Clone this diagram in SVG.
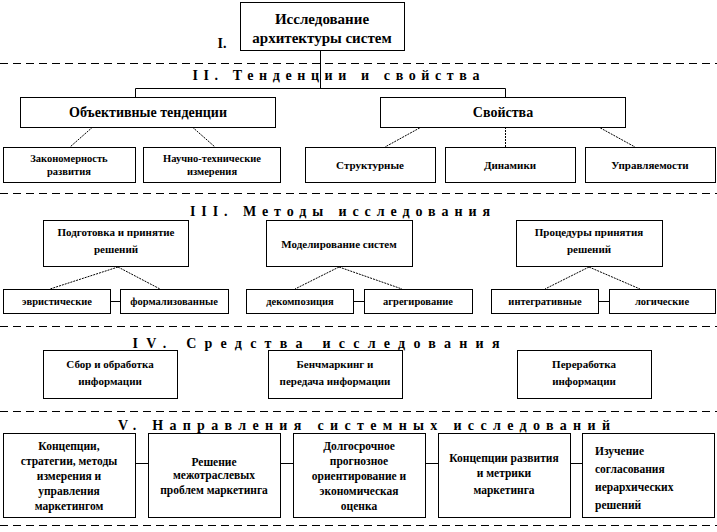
<svg xmlns="http://www.w3.org/2000/svg" width="717" height="532" viewBox="0 0 717 532">
<style>
.bx{fill:#fff;stroke:#000;stroke-width:1}
.ln{stroke:#000;stroke-width:1;fill:none}
.dg{stroke:#000;stroke-width:1;stroke-dasharray:2 1;fill:none}
.dash{stroke:#000;stroke-width:1;stroke-dasharray:8 5}
text{font-family:"Liberation Serif","Times New Roman",serif;font-weight:bold;fill:#000;text-anchor:middle}
.h{font-size:14px}
.t{font-size:15px}
.s{font-size:10.5px}
.m{font-size:11px}
.v{font-size:11.5px}
.l{text-anchor:start}
</style>
<rect width="717" height="532" fill="#fff"/>
<g id="dividers">
<line class="dash" x1="0" y1="63.5" x2="717" y2="63.5"/>
<line class="dash" x1="0" y1="193.5" x2="717" y2="193.5"/>
<line class="dash" x1="0" y1="326.5" x2="717" y2="326.5"/>
<line class="dash" x1="0" y1="411.5" x2="717" y2="411.5"/>
<line class="dash" x1="0" y1="525.5" x2="717" y2="525.5"/>
</g>
<g id="headings">
<text class="h" x="222" y="48">I.</text>
<text class="h" x="336" y="80" textLength="287" lengthAdjust="spacing">II. Тенденции и свойства</text>
<text class="h" x="340" y="216" textLength="300" lengthAdjust="spacing">III. Методы исследования</text>
<text class="h" x="316" y="348" textLength="367" lengthAdjust="spacing">IV. Средства исследования</text>
<text class="h" x="364" y="430" textLength="492" lengthAdjust="spacing">V. Направления системных исследований</text>
</g>
<g id="connectors">
<polyline class="ln" points="320.5,50 320.5,88.5"/>
<polyline class="ln" points="135.5,97 135.5,88.5 505.5,88.5 505.5,97"/>
<line class="dg" x1="95" y1="125" x2="70" y2="147"/>
<line class="dg" x1="190" y1="125" x2="215" y2="147"/>
<line class="dg" x1="425" y1="125" x2="385" y2="147"/>
<line class="dg" x1="505.5" y1="127" x2="505.5" y2="147"/>
<line class="dg" x1="595" y1="125" x2="635" y2="147"/>
<line class="dg" x1="118" y1="267" x2="50" y2="289"/>
<line class="dg" x1="118" y1="267" x2="160" y2="289"/>
<line class="dg" x1="339" y1="267" x2="295" y2="289"/>
<line class="dg" x1="339" y1="267" x2="402" y2="289"/>
<line class="dg" x1="589" y1="267" x2="545" y2="289"/>
<line class="dg" x1="589" y1="267" x2="640" y2="289"/>
<line class="ln" x1="110" y1="301.5" x2="120" y2="301.5"/>
<line class="ln" x1="353" y1="301.5" x2="364" y2="301.5"/>
<line class="ln" x1="598" y1="301.5" x2="609" y2="301.5"/>
<line class="ln" x1="135" y1="463.5" x2="148" y2="463.5"/>
<line class="ln" x1="280" y1="463.5" x2="293" y2="463.5"/>
<line class="ln" x1="425" y1="463.5" x2="438" y2="463.5"/>
<line class="ln" x1="570" y1="463.5" x2="582" y2="463.5"/>
</g>
<g id="n-root"><rect class="bx" x="240.5" y="2.5" width="164" height="48"/>
<text class="t" x="322" y="24">Исследование</text><text class="t" x="322" y="43">архитектуры систем</text></g>
<g id="n-obj"><rect class="bx" x="20.5" y="97.5" width="255" height="30"/><text class="h" x="148" y="117">Объективные тенденции</text></g>
<g id="n-svo"><rect class="bx" x="380.5" y="97.5" width="245" height="30"/><text class="h" x="503" y="117">Свойства</text></g>
<g id="n-zak"><rect class="bx" x="3.5" y="147.5" width="132" height="35"/><text class="s" x="69" y="162">Закономерность</text><text class="s" x="69" y="175">развития</text></g>
<g id="n-nauch"><rect class="bx" x="143.5" y="147.5" width="137" height="35"/><text class="s" x="212" y="162">Научно-технические</text><text class="s" x="212" y="175">измерения</text></g>
<g id="n-str"><rect class="bx" x="305.5" y="147.5" width="130" height="35"/><text class="m" x="370" y="169">Структурные</text></g>
<g id="n-din"><rect class="bx" x="445.5" y="147.5" width="130" height="35"/><text class="m" x="510" y="169">Динамики</text></g>
<g id="n-upr"><rect class="bx" x="585.5" y="147.5" width="130" height="35"/><text class="m" x="650" y="169">Управляемости</text></g>
<g id="n-podg"><rect class="bx" x="43.5" y="220.5" width="145" height="46"/><text class="m" x="116" y="236">Подготовка и принятие</text><text class="m" x="116" y="253">решений</text></g>
<g id="n-model"><rect class="bx" x="266.5" y="220.5" width="146" height="46"/><text class="m" x="339" y="248">Моделирование систем</text></g>
<g id="n-proc"><rect class="bx" x="516.5" y="220.5" width="146" height="46"/><text class="m" x="589" y="236">Процедуры принятия</text><text class="m" x="589" y="253">решений</text></g>
<g id="n-evr"><rect class="bx" x="3.5" y="289.5" width="107" height="24"/><text class="s" x="57" y="305">эвристические</text></g>
<g id="n-form"><rect class="bx" x="120.5" y="289.5" width="108" height="24"/><text class="s" x="174" y="305">формализованные</text></g>
<g id="n-dek"><rect class="bx" x="246.5" y="289.5" width="107" height="24"/><text class="s" x="300" y="305">декомпозиция</text></g>
<g id="n-agr"><rect class="bx" x="364.5" y="289.5" width="108" height="24"/><text class="s" x="418" y="305">агрегирование</text></g>
<g id="n-int"><rect class="bx" x="491.5" y="289.5" width="107" height="24"/><text class="s" x="545" y="305">интегративные</text></g>
<g id="n-log"><rect class="bx" x="609.5" y="289.5" width="106" height="24"/><text class="s" x="662" y="305">логические</text></g>
<g id="n-sbor"><rect class="bx" x="43.5" y="350.5" width="134" height="48"/><text class="m" x="110" y="368">Сбор и обработка</text><text class="m" x="110" y="385">информации</text></g>
<g id="n-bench"><rect class="bx" x="268.5" y="350.5" width="134" height="48"/><text class="m" x="335" y="368">Бенчмаркинг и</text><text class="m" x="335" y="385">передача информации</text></g>
<g id="n-perer"><rect class="bx" x="517.5" y="350.5" width="134" height="48"/><text class="m" x="584" y="368">Переработка</text><text class="m" x="584" y="385">информации</text></g>
<g id="n-konc"><rect class="bx" x="3.5" y="433.5" width="132" height="84"/>
<text class="v" x="69" y="450">Концепции,</text><text class="v" x="69" y="465">стратегии, методы</text><text class="v" x="69" y="480">измерения и</text><text class="v" x="69" y="495">управления</text><text class="v" x="69" y="510">маркетингом</text></g>
<g id="n-resh"><rect class="bx" x="148.5" y="433.5" width="132" height="84"/>
<text class="v" x="214" y="466">Решение</text><text class="v" x="214" y="479">межотраслевых</text><text class="v" x="214" y="494">проблем маркетинга</text></g>
<g id="n-dolg"><rect class="bx" x="293.5" y="433.5" width="132" height="84"/>
<text class="v" x="359" y="450">Долгосрочное</text><text class="v" x="359" y="465">прогнозное</text><text class="v" x="359" y="480">ориентирование и</text><text class="v" x="359" y="495">экономическая</text><text class="v" x="359" y="510">оценка</text></g>
<g id="n-razv"><rect class="bx" x="438.5" y="433.5" width="132" height="84"/>
<text class="v" x="504" y="462">Концепции развития</text><text class="v" x="504" y="477">и метрики</text><text class="v" x="504" y="494">маркетинга</text></g>
<g id="n-izuch"><rect class="bx" x="582.5" y="433.5" width="132" height="84"/>
<text class="v l" x="595" y="455">Изучение</text><text class="v l" x="595" y="473">согласования</text><text class="v l" x="595" y="491">иерархических</text><text class="v l" x="595" y="509">решений</text></g>
</svg>
